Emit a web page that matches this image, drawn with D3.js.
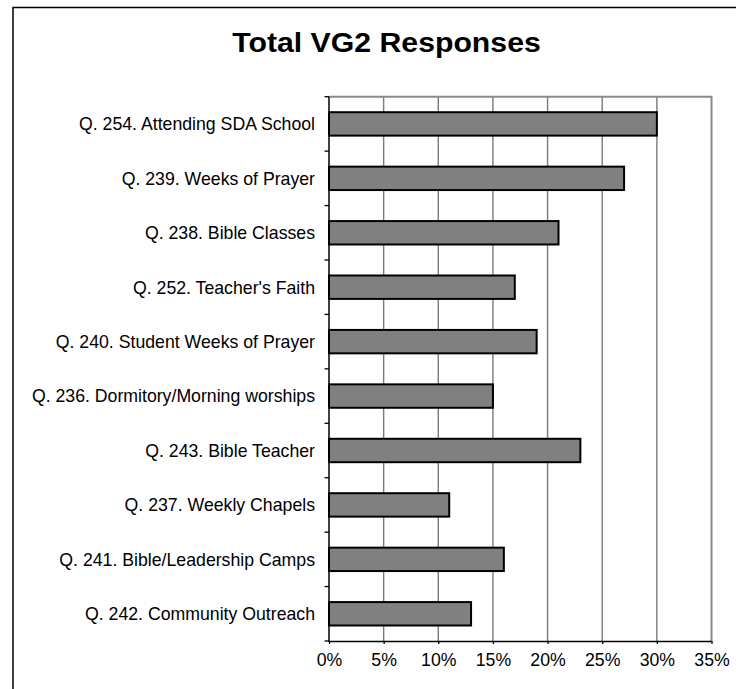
<!DOCTYPE html>
<html>
<head>
<meta charset="utf-8">
<script src="https://cdn.jsdelivr.net/npm/d3@7"></script>
<style>
  html, body { margin: 0; padding: 0; background: #fff; }
  svg { display: block; font-family: "Liberation Sans", Arial, Helvetica, sans-serif; }
</style>
</head>
<body>
<svg id="chart" width="736" height="689"></svg>
<script>
const title = "Total VG2 Responses";
const categories = [
  "Q. 254. Attending SDA School",
  "Q. 239. Weeks of Prayer",
  "Q. 238. Bible Classes",
  "Q. 252. Teacher's Faith",
  "Q. 240. Student Weeks of Prayer",
  "Q. 236. Dormitory/Morning worships",
  "Q. 243. Bible Teacher",
  "Q. 237. Weekly Chapels",
  "Q. 241. Bible/Leadership Camps",
  "Q. 242. Community Outreach"
];
const values = [30, 27, 21, 17, 19, 15, 23, 11, 16, 13];
const tickValues = [0, 5, 10, 15, 20, 25, 30, 35];

const svg = d3.select("#chart");
const W = 736, H = 689;
const plot = { left: 329, right: 711.5, top: 96.7, bottom: 641 };

// outer frame (only left and top edges visible)
svg.append("path")
  .attr("d", `M13,${H} L13,7.5 L${W},7.5`)
  .attr("fill", "none").attr("stroke", "#000").attr("stroke-width", 1.5);

// title
svg.append("text")
  .attr("transform", "translate(386.5,52) scale(1.12,1)")
  .attr("text-anchor", "middle")
  .attr("font-size", 27).attr("font-weight", "bold")
  .text(title);

const x = d3.scaleLinear().domain([0, 35]).range([plot.left, plot.right]);
const y = d3.scaleBand().domain(categories).range([plot.top, plot.bottom]).padding(0);
const barH = y.step() * 0.43;

// gridlines
svg.append("g").selectAll("line")
  .data(tickValues.filter(d => d > 0 && d < 35))
  .join("line")
  .attr("x1", d => x(d)).attr("x2", d => x(d))
  .attr("y1", plot.top).attr("y2", plot.bottom)
  .attr("stroke", "#7a7a7a").attr("stroke-width", 1.4);

// plot top and right border
svg.append("path")
  .attr("d", `M${plot.left},${plot.top} L${plot.right},${plot.top} L${plot.right},${plot.bottom}`)
  .attr("fill", "none").attr("stroke", "#8a8a8a").attr("stroke-width", 2);

// bars
svg.append("g").selectAll("rect")
  .data(values)
  .join("rect")
  .attr("x", x(0))
  .attr("y", (d, i) => y(categories[i]) + (y.step() - barH) / 2)
  .attr("width", d => x(d) - x(0))
  .attr("height", barH)
  .attr("fill", "#808080")
  .attr("stroke", "#000").attr("stroke-width", 2);

// x axis
const xAxis = d3.axisBottom(x).tickValues(tickValues).tickFormat(d => d + "%").tickSize(3).tickPadding(9);
const gx = svg.append("g").attr("transform", `translate(0,${plot.bottom})`).call(xAxis);
gx.select(".domain").attr("stroke", "#000").attr("stroke-width", 1.5).attr("d", `M${plot.left},0.5H${plot.right}`);
gx.selectAll(".tick line").attr("stroke", "#000").attr("stroke-width", 1.3);
gx.selectAll(".tick text").attr("font-size", 17.7).attr("fill", "#000")
  .attr("font-family", "'Liberation Sans', Arial, sans-serif");

// y axis: line + ticks at band boundaries
const boundaries = d3.range(categories.length + 1).map(i => plot.top + i * y.step());
svg.append("line")
  .attr("x1", plot.left).attr("x2", plot.left)
  .attr("y1", plot.top).attr("y2", plot.bottom + 1)
  .attr("stroke", "#000").attr("stroke-width", 1.5);
svg.append("g").selectAll("line")
  .data(boundaries)
  .join("line")
  .attr("x1", plot.left - 4.5).attr("x2", plot.left)
  .attr("y1", d => d).attr("y2", d => d)
  .attr("stroke", "#000").attr("stroke-width", 1.3);

// category labels
svg.append("g").selectAll("text")
  .data(categories)
  .join("text")
  .attr("x", plot.left - 14)
  .attr("y", d => y(d) + y.step() / 2)
  .attr("dy", "0.36em")
  .attr("text-anchor", "end")
  .attr("font-size", 17.7)
  .attr("fill", "#000")
  .text(d => d);
</script>
</body>
</html>
